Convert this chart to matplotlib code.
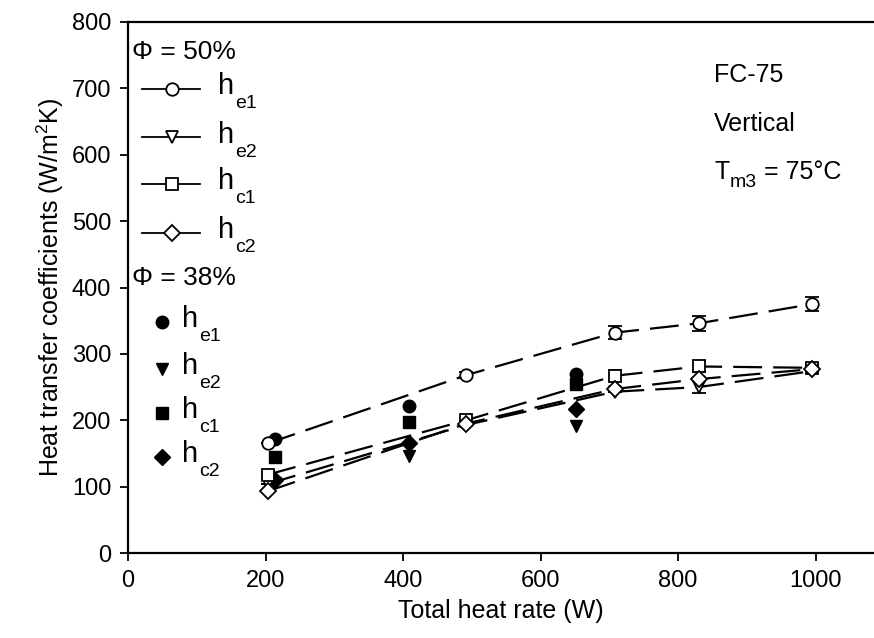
import numpy as np
import matplotlib
matplotlib.use('Agg')
import matplotlib.pyplot as plt

plt.rcParams['font.family'] = ['Liberation Sans', 'DejaVu Sans']
plt.rcParams['mathtext.fontset'] = 'custom'
plt.rcParams['mathtext.rm'] = 'Liberation Sans'

# Φ = 50 % (open markers, dashed lines)
q50 = [203, 492, 708, 830, 995]
he1_50 = [165, 268, 332, 346, 375]
he2_50 = [104, 193, 243, 250, 274]
hc1_50 = [118, 200, 267, 281, 279]
hc2_50 = [93, 195, 247, 262, 277]
he1_50_err = [0, 5, 10, 11, 11]
he2_50_err = [0, 0, 0, 9, 0]
hc1_50_err = [0, 4, 8, 8, 5]
hc2_50_err = [0, 0, 0, 0, 0]

# Φ = 38 % (filled markers only)
q38 = [214, 408, 652]
he1_38 = [172, 221, 270]
he2_38 = [106, 146, 192]
hc1_38 = [144, 198, 255]
hc2_38 = [110, 165, 217]

subs = ['e1', 'e2', 'c1', 'c2']
markers = ['o', 'v', 's', 'D']
msizes = [9, 9, 8, 8]

fig = plt.figure(figsize=(8.74, 6.38), dpi=100)
ax = fig.add_axes([128 / 874, 85 / 638, 746 / 874, 531 / 638])

series50 = [(he1_50, he1_50_err), (he2_50, he2_50_err),
            (hc1_50, hc1_50_err), (hc2_50, hc2_50_err)]
for (y, err), m, ms in zip(series50, markers, msizes):
    ax.errorbar(q50, y, yerr=err, color='black', lw=1.6, dashes=(13, 5),
                marker=m, ms=ms, mfc='white', mec='black', mew=1.3,
                ecolor='black', elinewidth=1.2, capsize=5, capthick=1.6)

for y, m, ms in zip([he1_38, he2_38, hc1_38, hc2_38], markers, msizes):
    ax.plot(q38, y, linestyle='none', marker=m, ms=ms, color='black')

ax.set_xlim(0, 1085)
ax.set_ylim(0, 800)
ax.set_xticks([0, 200, 400, 600, 800, 1000])
ax.set_yticks(np.arange(0, 801, 100))
ax.tick_params(direction='out', length=6, width=1.3, labelsize=17, pad=6)
ax.spines['right'].set_visible(False)
for s in ['left', 'bottom', 'top']:
    ax.spines[s].set_linewidth(1.6)
ax.set_xlabel('Total heat rate (W)', fontsize=18, labelpad=5)
ax.set_ylabel(r'Heat transfer coefficients (W/m$^2$K)', fontsize=18, labelpad=4)

# legend keys, drawn by hand in axes coordinates
tr = ax.transAxes
ax.text(0.006, 0.9435, 'Φ = 50%', transform=tr, fontsize=19, va='center')
rows50 = [0.874, 0.783, 0.695, 0.603]
for yy, m, ms, sub in zip(rows50, markers, msizes, subs):
    ax.plot([0.019, 0.097], [yy, yy], color='black', lw=1.3, transform=tr, clip_on=False)
    ax.plot([0.059], [yy], marker=m, ms=ms, mfc='white', mec='black', mew=1.3,
            transform=tr, clip_on=False)
    ax.text(0.121, yy + 0.005, 'h', transform=tr, fontsize=21, va='center')
    ax.text(0.143, yy - 0.028, sub, transform=tr, fontsize=14, va='center')

ax.text(0.006, 0.518, 'Φ = 38%', transform=tr, fontsize=19, va='center')
rows38 = [0.435, 0.347, 0.264, 0.181]
for yy, m, ms, sub in zip(rows38, markers, msizes, subs):
    ax.plot([0.046], [yy], marker=m, ms=ms, color='black', transform=tr, clip_on=False)
    ax.text(0.073, yy + 0.005, 'h', transform=tr, fontsize=21, va='center')
    ax.text(0.095, yy - 0.028, sub, transform=tr, fontsize=14, va='center')

ax.text(0.786, 0.9, 'FC-75', transform=tr, fontsize=18, va='center')
ax.text(0.786, 0.807, 'Vertical', transform=tr, fontsize=18, va='center')
ax.text(0.786, 0.718, 'T', transform=tr, fontsize=18, va='center')
ax.text(0.806, 0.698, 'm3', transform=tr, fontsize=14, va='center')
ax.text(0.852, 0.718, '= 75°C', transform=tr, fontsize=18, va='center')

fig.savefig('out.png', dpi=100)
